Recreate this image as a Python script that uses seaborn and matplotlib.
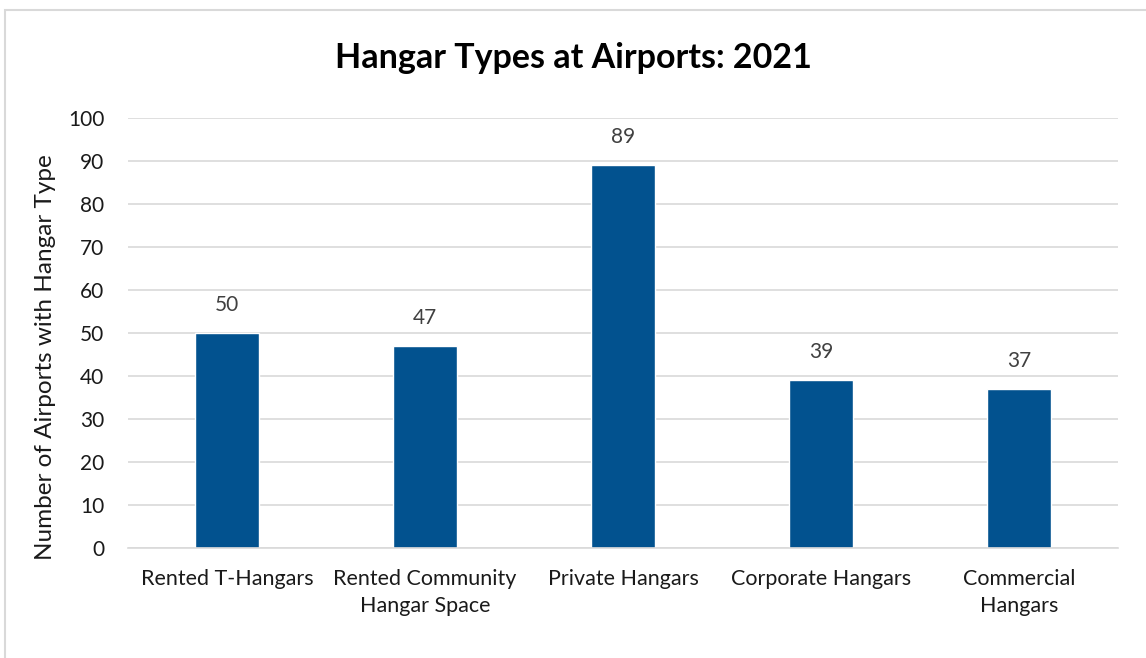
import matplotlib
matplotlib.use("Agg")
import matplotlib.pyplot as plt
import seaborn as sns
import pandas as pd
from matplotlib.patches import Rectangle

categories = ["Rented T-Hangars", "Rented Community\nHangar Space", "Private Hangars",
              "Corporate Hangars", "Commercial\nHangars"]
values = [50, 47, 89, 39, 37]
yticks = [0, 10, 20, 30, 40, 50, 60, 70, 80, 90, 100]

sns.set_theme(style="white")
plt.rcParams["font.family"] = ["Lato", "DejaVu Sans"]

df = pd.DataFrame({"cat": categories, "val": values})

fig = plt.figure(figsize=(11.46, 6.58), dpi=100)
ax = fig.add_axes([0.1117, 0.1672, 0.8639, 0.6535])
sns.barplot(data=df, x="cat", y="val", color="#02528f", width=0.32, ax=ax, saturation=1)

ax.set_ylim(0, 100)
ax.set_yticks(yticks)
ax.set_yticklabels([str(t) for t in yticks], fontsize=15, color="#1a1a1a")
ax.set_xticks(range(len(categories)))
ax.set_xticklabels(categories, fontsize=15.5, color="#1a1a1a", linespacing=1.45)
ax.tick_params(axis="x", length=0, pad=15)
ax.tick_params(axis="y", length=0, pad=17)
ax.set_xlim(-0.5, len(categories) - 0.5)
ax.grid(axis="y", color="#d9d9d9", linewidth=1.2)
ax.set_axisbelow(True)
for s in ["top", "right", "left"]:
    ax.spines[s].set_visible(False)
ax.spines["bottom"].set_color("#d9d9d9")
ax.spines["bottom"].set_linewidth(1.2)
ax.set_xlabel("")
ax.set_ylabel("Number of Airports with Hangar Type", fontsize=17.5, color="#1a1a1a")
ax.yaxis.set_label_coords(-0.073, 0.444)

for i, v in enumerate(values):
    ax.annotate(str(v), (i, v), xytext=(0, 13), textcoords="offset points",
                ha="center", va="bottom", fontsize=15, color="#404040")

fig.text(0.5, 0.912, "Hangar Types at Airports: 2021", ha="center", va="center",
         fontsize=24.5, fontweight="bold", color="#000000")

fig.patches.append(Rectangle((5 / 1146, -0.05), 1.1, 1 - 10 / 658 + 0.05,
                             transform=fig.transFigure, fill=False,
                             edgecolor="#d9d9d9", linewidth=1.5))

fig.savefig("out.png", dpi=100)
